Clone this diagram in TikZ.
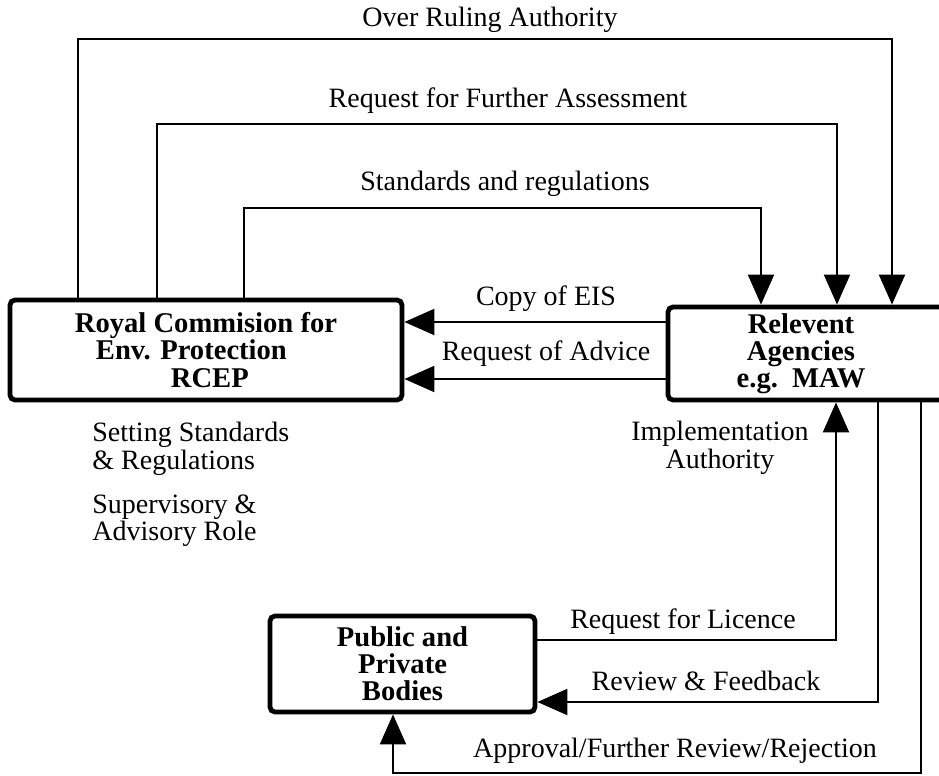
\documentclass[tikz,border=0pt]{standalone}
\usepackage{fontspec}
\setmainfont{Liberation Serif}
\usetikzlibrary{arrows.meta}

\begin{document}
\begin{tikzpicture}[
    x=0.5pt,y=-0.5pt,
    box/.style={draw,line width=2.4pt,rounded corners=2.5pt,align=center,
      inner sep=0pt,font=\fontsize{14.3}{13.6}\selectfont\bfseries},
    link/.style={line width=1pt},
    flow/.style={link,-{Triangle[length=15pt,width=13pt]}},
    lbl/.style={inner sep=0pt,font=\fontsize{14}{13.6}\selectfont}
  ]
  \clip
    (0,0)
    rectangle
    (939,776);
  \node[box,minimum width=196pt,minimum height=50pt,align=left]
    (rcep) at (206,350)
    {Royal Commision for\\\hspace*{10.5pt}Env. Protection\\\hspace*{48pt}RCEP};
  \node[box,minimum width=141pt,minimum height=46.5pt]
    (maw) at (809,353.5)
    {\hspace*{-8pt}Relevent\\\hspace*{-8pt}Agencies\\\hspace*{-8pt}e.g.\ \ MAW};
  \node[box,minimum width=132.5pt,minimum height=48pt]
    (ppb) at (402.5,664)
    {Public and\\Private\\Bodies};
  \coordinate (o1) at (78,39);
  \coordinate (o2) at (892,39);
  \coordinate (f1) at (157,124);
  \coordinate (f2) at (837,124);
  \coordinate (s1) at (244,208);
  \coordinate (s2) at (761,208);
  \coordinate (eis) at (535,322);
  \coordinate (adv) at (535,379);
  \coordinate (lic) at (836,640);
  \coordinate (rev) at (878,702);
  \coordinate (ap1) at (921,773);
  \coordinate (ap2) at (393,773);
  \draw[flow]
    (rcep.north -| o1)
    --
    (o1)
    --
    (o2)
    --
    (maw.north -| o2);
  \draw[flow]
    (rcep.north -| f1)
    --
    (f1)
    --
    (f2)
    --
    (maw.north -| f2);
  \draw[flow]
    (rcep.north -| s1)
    --
    (s1)
    --
    (s2)
    --
    (maw.north -| s2);
  \draw[flow]
    (maw.west |- eis)
    --
    (rcep.east |- eis);
  \draw[flow]
    (maw.west |- adv)
    --
    (rcep.east |- adv);
  \draw[flow]
    (ppb.east |- lic)
    --
    (lic)
    --
    (maw.south -| lic);
  \draw[flow]
    (maw.south -| rev)
    --
    (rev)
    --
    (ppb.east |- rev);
  \draw[flow]
    (maw.south -| ap1)
    --
    (ap1)
    --
    (ap2)
    --
    (ppb.south -| ap2);
  \node[lbl,anchor=base] (over) at (490,26) {Over Ruling Authority};
  \node[lbl,anchor=base] (further) at (508,107) {Request for Further Assessment};
  \node[lbl,anchor=base] (stdreg) at (505,191) {Standards and regulations};
  \node[lbl,anchor=base] (copy) at (546,305) {Copy of EIS};
  \node[lbl,anchor=base] (advice) at (546,360) {Request of Advice};
  \node[lbl,anchor=north west,align=left] (setting) at (92,422)
    {Setting Standards\\\& Regulations};
  \node[lbl,anchor=north west,align=left] (role) at (92,494)
    {Supervisory \&\\Advisory Role};
  \node[lbl,anchor=north,align=center] (impl) at (720,421)
    {Implementation\\Authority};
  \node[lbl,anchor=base] (licence) at (683,628) {Request for Licence};
  \node[lbl,anchor=base] (feedback) at (706,690) {Review \& Feedback};
  \node[lbl,anchor=base] (approval) at (675,757) {Approval/Further Review/Rejection};
\end{tikzpicture}
\end{document}
